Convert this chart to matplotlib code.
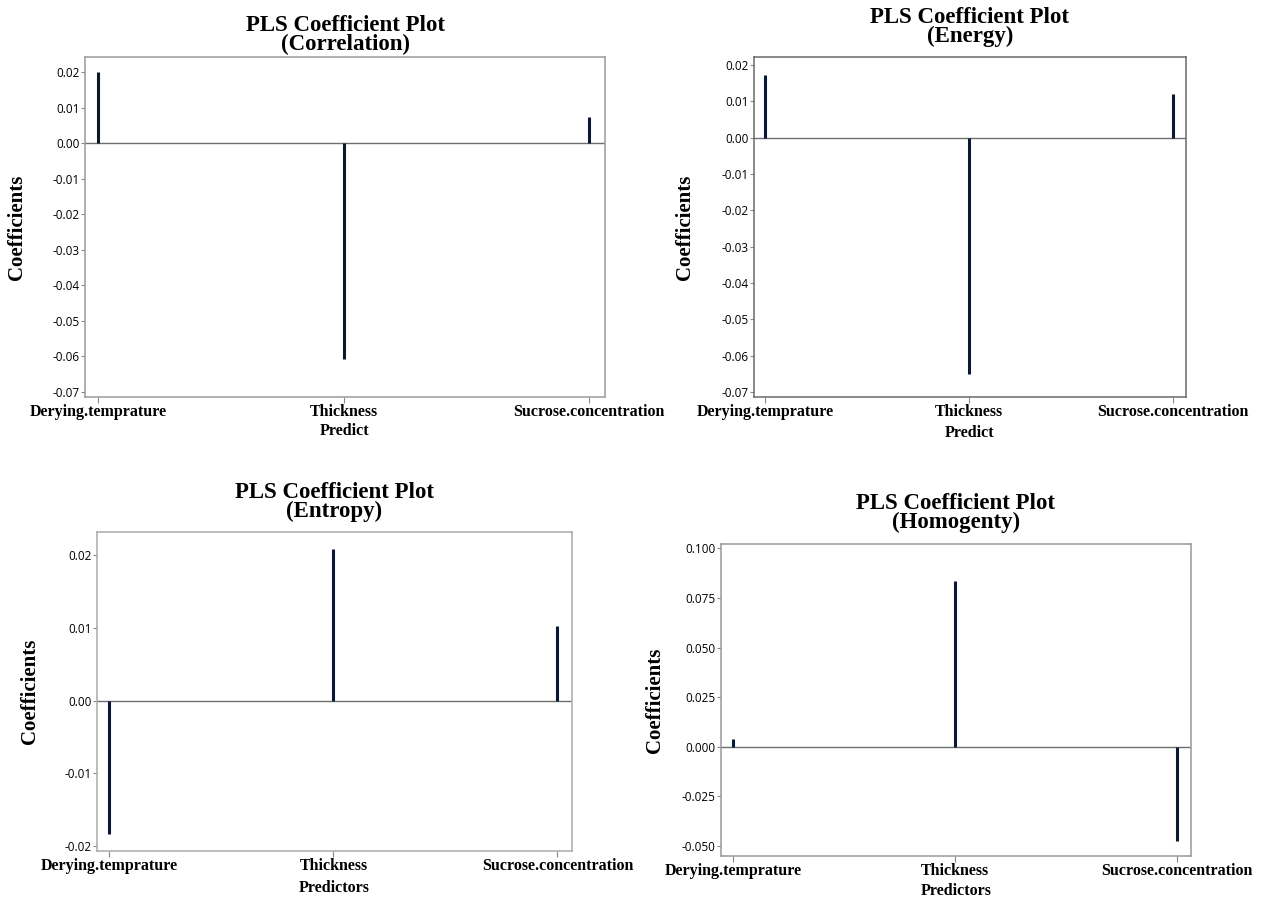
import matplotlib.pyplot as plt

# predictors shared by all four panels
predictors = ["Derying.temprature", "Thickness", "Sucrose.concentration"]

# PLS coefficients
coef_correlation = [0.0200, -0.0608, 0.0074]
coef_energy = [0.0172, -0.0652, 0.0120]
coef_entropy = [-0.0183, 0.0209, 0.0103]
coef_homogenty = [0.0037, 0.0837, -0.0475]

serif = "Liberation Serif"
sans = "Open Sans"

fig = plt.figure(figsize=(12.61, 8.99), dpi=100)
W, H = 1261.0, 899.0


def box(left, top, right, bottom):
    # pixel box -> figure fraction
    return [left / W, 1 - bottom / H, (right - left) / W, (bottom - top) / H]


panels = [
    # name, values, box, ylim, yticks, fmt, xlabel, title pad px, ylabel x, spine colour, xlabel y
    ("Correlation", coef_correlation, box(85, 57, 605, 397), (-0.0714, 0.0243),
     [0.02, 0.01, 0.0, -0.01, -0.02, -0.03, -0.04, -0.05, -0.06, -0.07], "{:.2f}",
     "Predict", 2, -0.112, "#9a9a9a", -0.076),
    ("Energy", coef_energy, box(754, 57, 1186, 397), (-0.0714, 0.0222),
     [0.02, 0.01, 0.0, -0.01, -0.02, -0.03, -0.04, -0.05, -0.06, -0.07], "{:.2f}",
     "Predict", 10, -0.137, "#6a6a6a", -0.082),
    ("Entropy", coef_entropy, box(97, 532, 572, 851), (-0.0207, 0.0232),
     [0.02, 0.01, 0.0, -0.01, -0.02], "{:.2f}",
     "Predictors", 10, -0.120, "#aaaaaa", -0.090),
    ("Homogenty", coef_homogenty, box(721, 544, 1191, 856), (-0.055, 0.1022),
     [0.1, 0.075, 0.05, 0.025, 0.0, -0.025, -0.05], "{:.3f}",
     "Predictors", 11, -0.119, "#999999", -0.087),
]

for name, vals, pos, ylim, yticks, fmt, xlab, tpad, ylx, scol, xly in panels:
    ax = fig.add_axes(pos)
    xs = list(range(len(predictors)))
    ax.vlines(xs, 0, vals, color="#0b1830", lw=2.2, zorder=3)
    ax.axhline(0, color="#6e6e6e", lw=1.0, zorder=2)

    ax.set_xlim(-0.055, 2.065)
    ax.set_ylim(*ylim)
    ax.set_yticks(yticks)
    ax.set_yticklabels([fmt.format(abs(v)) if abs(v) < 1e-12 else fmt.format(v) for v in yticks],
                       fontfamily=sans, fontsize=8.5)
    ax.set_xticks(xs)
    ax.set_xticklabels(predictors, fontfamily=serif, fontweight="bold", fontsize=11.5)
    ax.tick_params(axis="y", length=3, width=0.8, color="#888888", pad=1)
    ax.tick_params(axis="x", length=4, width=0.8, color="#888888", pad=1)

    for sp in ax.spines.values():
        sp.set_color(scol)
        sp.set_linewidth(1.1)

    ax.text(0.5, 1 + tpad / (pos[3] * H), "PLS Coefficient Plot\n(" + name + ")",
            transform=ax.transAxes, ha="center", va="bottom", fontfamily=serif,
            fontweight="bold", fontsize=16.5, linespacing=0.85)
    ax.set_ylabel("Coefficients", fontfamily=serif, fontweight="bold", fontsize=15)
    ax.yaxis.set_label_coords(ylx, 0.5)
    ax.text(0.5, xly, xlab, transform=ax.transAxes, ha="center", va="top",
            fontfamily=serif, fontweight="bold", fontsize=11.5)

fig.savefig("out.png", dpi=100, facecolor="white")
